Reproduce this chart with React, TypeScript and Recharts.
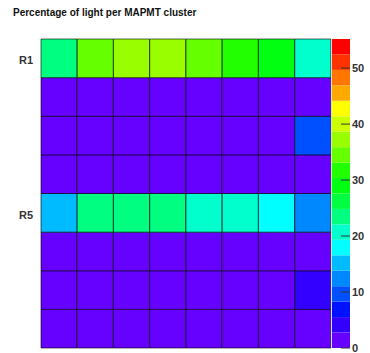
import { Bar, BarChart, Cell, XAxis, YAxis } from 'recharts'

// columns of the MAPMT grid, rows from top (R1) to bottom (R8)
const columns = ['1', '2', '3', '4', '5', '6', '7', '8']
const rowNames = ['R1', 'R2', 'R3', 'R4', 'R5', 'R6', 'R7', 'R8']

// percentage of light per cluster
const r1 = [23.5, 34.5, 37.3, 37.3, 34.5, 31.7, 29.0, 20.7]
const r2 = [1.2, 1.1, 1.0, 1.1, 1.2, 1.0, 1.1, 1.3]
const r3 = [1.1, 1.0, 1.2, 1.1, 1.0, 1.2, 1.1, 9.7]
const r4 = [1.0, 1.1, 1.0, 1.2, 1.1, 1.0, 1.2, 1.4]
const r5 = [15.2, 23.5, 23.5, 23.5, 20.7, 20.7, 17.9, 12.4]
const r6 = [1.1, 1.0, 1.1, 1.0, 1.2, 1.1, 1.0, 1.3]
const r7 = [1.0, 1.2, 1.1, 1.0, 1.1, 1.2, 1.0, 4.1]
const r8 = [1.2, 1.1, 1.0, 1.1, 1.0, 1.1, 1.2, 1.4]
const rows = [r1, r2, r3, r4, r5, r6, r7, r8]

// colour scale
const zMax = 55.2
const zTicks = [0, 10, 20, 30, 40, 50]
const palette = [
  '#6600ff', '#3300ff', '#0011ff', '#0050ff', '#0088ff',
  '#00bbff', '#00ffff', '#00ffcc', '#00ff80', '#00ff40',
  '#00ff10', '#22ff00', '#66ff00', '#99ff00', '#ccff00',
  '#ffff00', '#ffaa00', '#ff7700', '#ff3300', '#ff0000',
]

const FONT = '"Liberation Sans", Arial, Helvetica, sans-serif'

const step = zMax / palette.length
function colorFor(v: number) {
  const i = Math.min(palette.length - 1, Math.max(0, Math.floor(v / step)))
  return palette[i]
}

// each cell is one unit tall in the stack; colour carries the value
const gridData = columns.map((c) => {
  const d: Record<string, string | number> = { col: c }
  rowNames.forEach((r) => (d[r] = 1))
  return d
})

const barData = [
  palette.reduce<Record<string, string | number>>(
    (acc, _c, i) => {
      acc['b' + i] = step
      return acc
    },
    { name: 'z' }
  ),
]

const rowTicks: Record<number, string> = { 7.5: 'R1', 3.5: 'R5' }

function ZTick(props: any) {
  const { x, y, payload } = props
  return (
    <g>
      <line x1={x - 9} x2={x} y1={y} y2={y} stroke="#333" strokeWidth={1} />
      <text x={x + 2} y={y} dy={4} fontSize={11} fontWeight="bold" fill="#333" fontFamily={FONT}>
        {payload.value}
      </text>
    </g>
  )
}

export default function App() {
  return (
    <div style={{ position: 'absolute', left: 0, top: 0, width: 370, height: 353, background: '#fff' }}>
      <div
        style={{
          position: 'absolute',
          left: 13,
          top: 7,
          fontFamily: FONT,
          fontSize: 10,
          fontWeight: 'bold',
          color: '#111',
        }}
      >
        Percentage of light per MAPMT cluster
      </div>
      <div style={{ position: 'absolute', left: 0, top: 0 }}>
        <BarChart
          width={332}
          height={353}
          data={gridData}
          margin={{ top: 39, right: 1, bottom: 5, left: 0 }}
          barCategoryGap={0}
          barGap={0}
        >
          <XAxis dataKey="col" hide />
          <YAxis
            type="number"
            domain={[0, 8]}
            ticks={[3.5, 7.5]}
            tickFormatter={(v: number) => rowTicks[v] ?? ''}
            axisLine={false}
            tickLine={false}
            tickSize={0}
            tickMargin={8}
            width={41}
            tick={{ fontSize: 11, fontWeight: 'bold', fill: '#333', fontFamily: FONT, dy: 2 }}
          />
          {[...rowNames].reverse().map((r) => {
            const vals = rows[rowNames.indexOf(r)]
            return (
              <Bar key={r} dataKey={r} stackId="grid" isAnimationActive={false}>
                {vals.map((v, i) => (
                  <Cell key={i} fill={colorFor(v)} stroke="#000" strokeOpacity={0.6} strokeWidth={1} />
                ))}
              </Bar>
            )
          })}
        </BarChart>
      </div>
      <div style={{ position: 'absolute', left: 332, top: 0 }}>
        <BarChart
          width={38}
          height={353}
          data={barData}
          margin={{ top: 39, right: 0, bottom: 5, left: 0 }}
          barCategoryGap={0}
        >
          <XAxis dataKey="name" hide />
          <YAxis
            orientation="right"
            type="number"
            domain={[0, zMax]}
            ticks={zTicks}
            interval={0}
            axisLine={false}
            tickLine={false}
            tickSize={0}
            tickMargin={0}
            width={20}
            tick={<ZTick />}
          />
          {palette.map((c, i) => (
            <Bar key={i} dataKey={'b' + i} stackId="z" fill={c} isAnimationActive={false} />
          ))}
        </BarChart>
      </div>
    </div>
  )
}
